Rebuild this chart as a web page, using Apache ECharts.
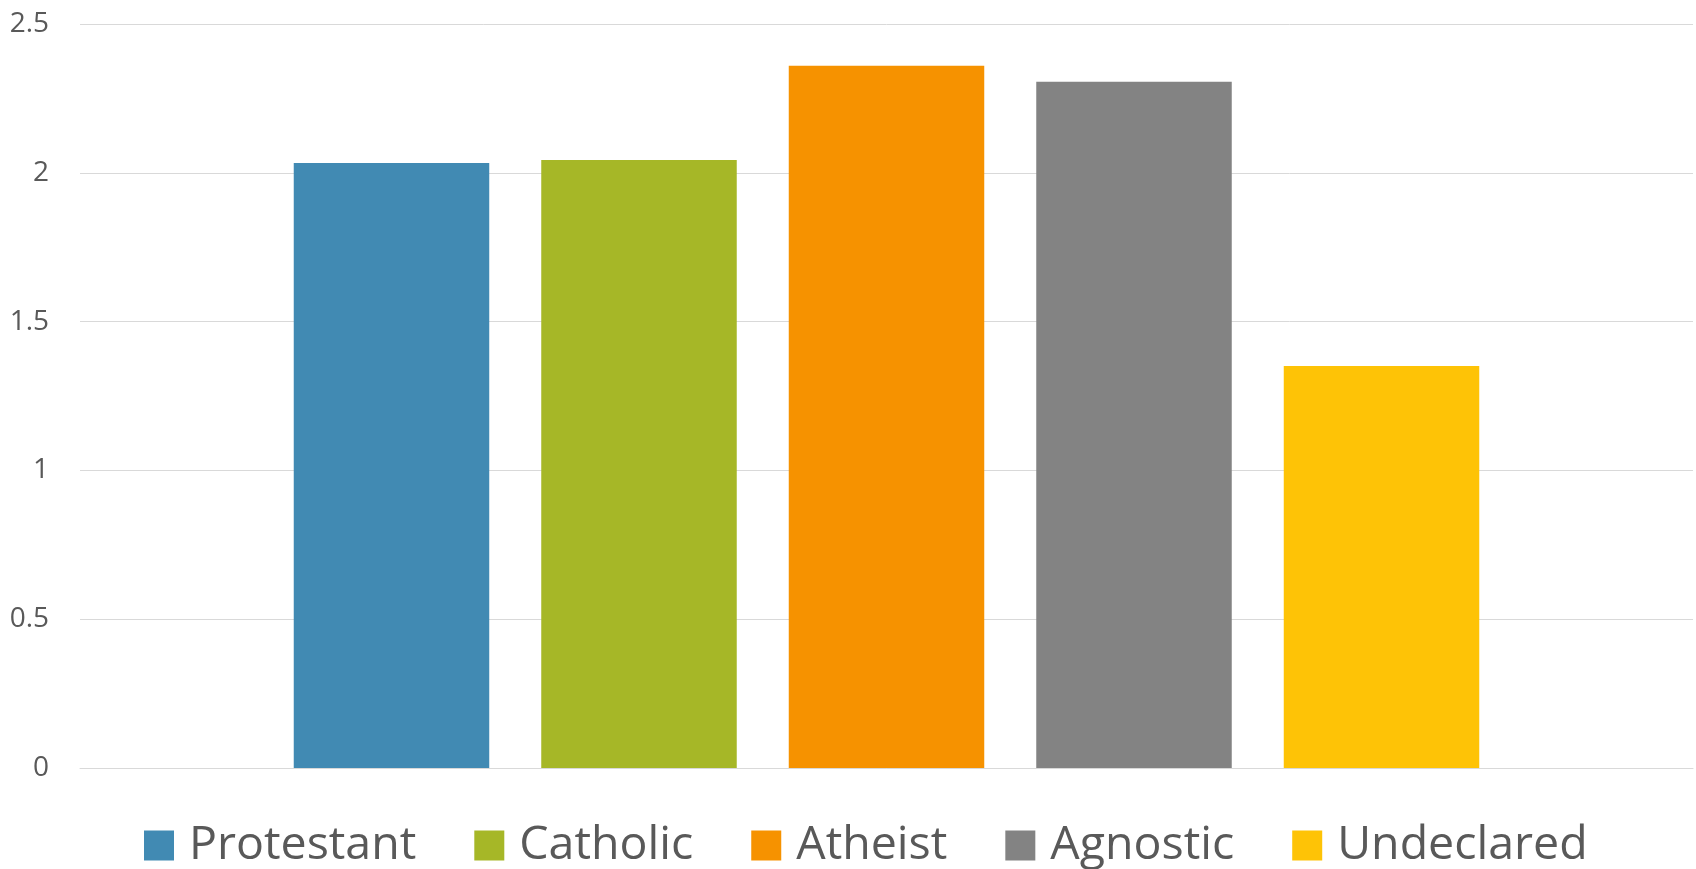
<!DOCTYPE html>
<html>
<head>
<meta charset="utf-8">
<script src="https://cdn.jsdelivr.net/npm/echarts@6/dist/echarts.min.js"></script>
<style>html,body{margin:0;padding:0;background:#fff}#c{width:1696px;height:869px}</style>
</head>
<body>
<div id="c"></div>
<script>
var categories = [''];
var seriesNames = ['Protestant', 'Catholic', 'Atheist', 'Agnostic', 'Undeclared'];
var seriesValues = [2.033, 2.043, 2.36, 2.306, 1.351];
var seriesColors = ['#418AB3', '#A6B727', '#F69200', '#838383', '#FEC306'];
var yTicks = { min: 0, max: 2.5, interval: 0.5 };

var chart = echarts.init(document.getElementById('c'));
var font = 'Open Sans';
chart.setOption({
  animation: false,
  grid: { left: 80, right: 3, top: 24, bottom: 101, containLabel: false },
  legend: {
    bottom: 0,
    padding: 0,
    left: 144,
    itemWidth: 30,
    itemHeight: 30,
    itemGap: 58,
    icon: 'rect',
    textStyle: { fontFamily: font, fontSize: 46.5, color: '#595959', padding: [0, 0, 0, 10] },
    data: seriesNames
  },
  xAxis: {
    type: 'category',
    data: categories,
    axisLine: { show: true, lineStyle: { color: '#d9d9d9', width: 1 } },
    axisTick: { show: false },
    axisLabel: { show: false }
  },
  yAxis: {
    type: 'value',
    min: yTicks.min,
    max: yTicks.max,
    interval: yTicks.interval,
    axisLine: { show: false },
    axisTick: { show: false },
    axisLabel: { fontFamily: font, fontSize: 28, color: '#595959', margin: 31 },
    splitLine: { lineStyle: { color: '#d9d9d9', width: 1 } }
  },
  series: seriesNames.map(function (n, i) {
    return {
      name: n,
      type: 'bar',
      data: [seriesValues[i]],
      barWidth: 195.5,
      barGap: '26.6%',
      itemStyle: { color: seriesColors[i] }
    };
  })
});
</script>
</body>
</html>
